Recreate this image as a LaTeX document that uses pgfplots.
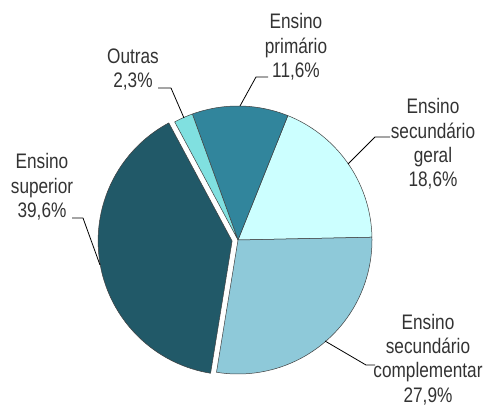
\documentclass[border=0pt]{standalone}
\usepackage{pgfplots}
\pgfplotsset{compat=1.18}
\usepackage{fontspec}
\setmainfont{Liberation Sans}[FakeStretch=0.82]
\definecolor{cPrim}{HTML}{31859C}
\definecolor{cGeral}{HTML}{CCFFFF}
\definecolor{cCompl}{HTML}{8EC9D9}
\definecolor{cSup}{HTML}{215968}
\definecolor{cOut}{HTML}{80E0E0}
\definecolor{tgray}{HTML}{333333}
\newcommand{\lbl}{\fontsize{21}{24.3}\selectfont}
\begin{document}
\begin{tikzpicture}
% shares (%)
\def\vGeral{18.6}\def\vPrim{11.6}\def\vOut{2.3}\def\vSup{39.6}\def\vCompl{27.9}
\def\cx{238}\def\cy{240}\def\r{134}
\def\sx{232.1}\def\sy{241.0}
\pgfmathsetmacro{\aA}{1.2}
\pgfmathsetmacro{\aB}{\aA+3.6*\vGeral}
\pgfmathsetmacro{\aC}{\aB+3.6*\vPrim}
\pgfmathsetmacro{\aD}{\aC+3.6*\vOut}
\pgfmathsetmacro{\aE}{\aD+3.6*\vSup}
\pgfmathsetmacro{\aF}{\aE+3.6*\vCompl}
\begin{axis}[x=1pt,y=1pt,y dir=reverse,xmin=0,xmax=486,ymin=0,ymax=406,
  hide axis,clip=false,samples=90,
  every axis plot/.append style={line join=round}]
\path (axis cs:0,0) rectangle (axis cs:486,406);
\addplot[fill=cGeral,draw=black!75,line width=0.5pt,domain=\aA:\aB,variable=\t]
  ({\cx+\r*cos(\t)},{\cy-\r*sin(\t)}) -- (axis cs:\cx,\cy) -- cycle;
\addplot[fill=cPrim,draw=black!75,line width=0.5pt,domain=\aB:\aC,variable=\t]
  ({\cx+\r*cos(\t)},{\cy-\r*sin(\t)}) -- (axis cs:\cx,\cy) -- cycle;
\addplot[fill=cOut,draw=black!75,line width=0.5pt,domain=\aC:\aD,variable=\t,samples=20]
  ({\cx+\r*cos(\t)},{\cy-\r*sin(\t)}) -- (axis cs:\cx,\cy) -- cycle;
\addplot[fill=cSup,draw=black!75,line width=0.5pt,domain=\aD:\aE,variable=\t]
  ({\sx+\r*cos(\t)},{\sy-\r*sin(\t)}) -- (axis cs:\sx,\sy) -- cycle;
\addplot[fill=cCompl,draw=black!75,line width=0.5pt,domain=\aE:\aF,variable=\t]
  ({\cx+\r*cos(\t)},{\cy-\r*sin(\t)}) -- (axis cs:\cx,\cy) -- cycle;
% leader lines
\addplot[black,line width=0.8pt,mark=none] coordinates {(158,88) (171,88) (184,118)};
\addplot[black,line width=0.8pt,mark=none] coordinates {(268,77) (256,77) (240,106)};
\addplot[black,line width=0.8pt,mark=none] coordinates {(390,137) (375,137) (348,164)};
\addplot[black,line width=0.8pt,mark=none] coordinates {(325,341) (366,365) (375,365)};
\addplot[black,line width=0.8pt,mark=none] coordinates {(72,218) (83,218) (100,265)};
% labels
\node[align=center,font=\lbl,text=tgray,inner sep=0pt] at (axis cs:296,47) {Ensino\\primário\\11,6\%};
\node[align=center,font=\lbl,text=tgray,inner sep=0pt] at (axis cs:433,144) {Ensino\\secundário\\geral\\18,6\%};
\node[align=center,font=\lbl,text=tgray,inner sep=0pt] at (axis cs:133,69.5) {Outras\\2,3\%};
\node[align=center,font=\lbl,text=tgray,inner sep=0pt] at (axis cs:42,187) {Ensino\\superior\\39,6\%};
\node[align=center,font=\lbl,text=tgray,inner sep=0pt] at (axis cs:428,359.5) {Ensino\\secundário\\complementar\\27,9\%};
\end{axis}
\end{tikzpicture}
\end{document}
